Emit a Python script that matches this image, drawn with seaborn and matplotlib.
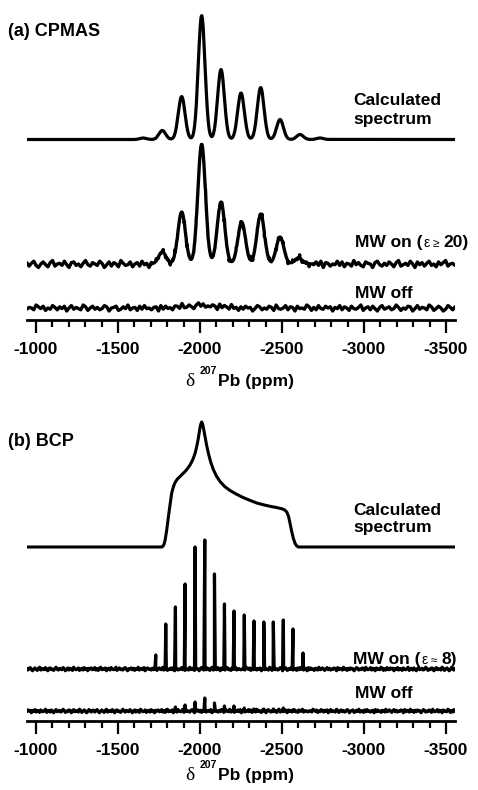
import numpy as np
import pandas as pd
import matplotlib
matplotlib.use("Agg")
import matplotlib.pyplot as plt
import seaborn as sns

# ---------------- data ----------------
XMIN, XMAX = -943, -3555
major_ticks = [-1000, -1500, -2000, -2500, -3000, -3500]
minor_ticks = list(range(-1000, -3501, -100))

# (a) CPMAS – spinning-sideband positions (ppm) and heights
cpmas_calc_pos = [-1654, -1770, -1888, -2010, -2128, -2250, -2370, -2488, -2610, -2732]
cpmas_calc_height = [1.5, 9, 43, 124, 70, 46.5, 52, 20, 5, 1.5]
cpmas_on_pos = [-1770, -1888, -2010, -2128, -2254, -2370, -2488, -2600]
cpmas_on_height = [12, 52, 120, 62, 42, 50, 27, 6]
cpmas_off_pos = [-1888, -2010, -2128]
cpmas_off_height = [1.5, 3, 1.5]

# (b) BCP – calculated static powder pattern (ppm, intensity)
bcp_calc_ppm = [-943, -1768, -1775, -1781, -1787, -1797, -1807, -1817, -1827, -1838,
                -1848, -1862, -1878, -1893, -1909, -1924, -1939, -1955, -1970, -1980,
                -1990, -1998, -2004, -2010, -2016, -2022, -2030, -2040, -2051, -2065,
                -2081, -2100, -2122, -2150, -2183, -2220, -2264, -2305, -2346, -2387,
                -2427, -2465, -2498, -2515, -2529, -2540, -2549, -2559, -2569, -2580,
                -2590, -2600, -3555]
bcp_calc_int = [0, 0, 1, 3, 6.7, 17, 30, 42, 53.7, 60.5,
                64.5, 68, 70.5, 73, 75.5, 78.5, 82, 87, 93.7, 100.5,
                109, 117.5, 122.5, 125, 123, 118, 111, 102, 93.7, 85,
                77.5, 71, 65.5, 60.5, 56.5, 53, 49.4, 46.6, 44, 42.2,
                40.7, 39.5, 38.3, 37.2, 35, 30.5, 23.7, 15.5, 8.7, 3.5,
                1, 0, 0]

# (b) BCP – experimental sharp peaks (ppm) and heights
bcp_on_pos = [-1730, -1791, -1850, -1909, -1970, -2029, -2088, -2149, -2207, -2270,
              -2329, -2389, -2447, -2508, -2567, -2628]
bcp_on_height = [14, 45, 62, 85, 122, 129, 95, 65, 58, 54, 48, 47, 47, 49, 40, 16]
bcp_off_height = [0, 1, 4, 6, 9, 13, 8, 5, 5, 3, 2, 2, 2, 3, 1, 0]

# hand-typed baseline noise pattern
noise_pattern = [2, -3, 1, 4, -2, -5, 0, 3, -1, -4, 2, 5, -3, 0, 1, -2, 4, -1, -5, 2,
                 3, -2, 0, -4, 1, 5, -1, -3, 2, 0, -2, 4, 1, -5, -1, 3, -3, 2, 0, -4,
                 5, 1, -2, -1, 3, -4, 0, 2, -3, 4, -1, 1, -5, 2, 0, 3, -2, -1, 4, -3,
                 1, -4, 2, 5, -2, 0, -1, 3, -5, 1, 2, -3, 4, 0, -2, -1, 5, -4, 1, 3,
                 -2, 0, -3, 2, 4, -1, -5, 1, 0, 3, -2, 2, -4, 1, -1, 5, -3, 0, 2, -2,
                 4, -5, 1, 3, -1, 0, -3, 2, -2, 4, 1, -4, 0, 3, -1, -2, 5, -3, 1, 2,
                 -4, 0, -1, 3, -2, 4, -5, 2, 1, -3, 0, -1, 4, -2, 3, -4, 1, 0, -3, 5,
                 -1, 2, -2, -4, 3, 1, 0, -5, 2, 4, -1, -3, 1, -2, 3, 0, -4, 2, 5, -3,
                 -1, 1, -2, 4, 0, -5, 3, -1, 2, -3, 1, 4, -2, 0, -4, 3, -1, 2, 5, -3,
                 0, 1, -2]

# ---------------- layout constants (pixels) ----------------
W, H = 478, 790
AX_L, AX_R = 26.7, 455.0
A_AXIS, A_TOP = 320.0, 0.0
B_AXIS, B_TOP = 721.0, 400.0
A_OFF = dict(calc=180.5, on=56.0, off=12.0)
B_OFF = dict(calc=174.0, on=52.0, off=10.0)

sns.set_theme(style="white")
plt.rcParams["font.family"] = ["Liberation Sans", "DejaVu Sans"]
plt.rcParams["axes.unicode_minus"] = False

fig = plt.figure(figsize=(W / 100, H / 100), dpi=100)
fig.patch.set_facecolor("white")


def make_ax(axis_px, top_px):
    ax = fig.add_axes([AX_L / W, 1 - axis_px / H, (AX_R - AX_L) / W, (axis_px - top_px) / H])
    ax.set_xlim(XMIN, XMAX)
    ax.set_ylim(0, axis_px - top_px)
    for s in ("left", "right", "top"):
        ax.spines[s].set_visible(False)
    ax.spines["bottom"].set_linewidth(2.0)
    ax.spines["bottom"].set_color("black")
    ax.set_yticks([])
    ax.set_xticks(major_ticks)
    ax.set_xticks(minor_ticks, minor=True)
    ax.set_xticklabels([str(t) for t in major_ticks])
    ax.tick_params(axis="x", which="major", direction="out", length=9.5, width=1.6,
                   color="black", pad=6, labelsize=12.5, labelcolor="black", bottom=True)
    ax.tick_params(axis="x", which="minor", direction="out", length=5, width=1.6,
                   color="black", bottom=True)
    for lab in ax.get_xticklabels():
        lab.set_fontweight("bold")
    ax.set_xlabel("")
    ax.set_ylabel("")
    ax.grid(False)
    ax.set_facecolor("white")
    return ax


def gauss_sum(x, pos, hts, sigma):
    y = np.zeros_like(x, dtype=float)
    for p, h in zip(pos, hts):
        y += h * np.exp(-(x - p) ** 2 / (2 * sigma ** 2))
    return y


def draw(ax, x, y, lw=2.0):
    df = pd.DataFrame({"ppm": x, "I": y})
    sns.lineplot(data=df, x="ppm", y="I", ax=ax, color="black", linewidth=lw,
                 sort=True, estimator=None, legend=False)
    ax.set_xlabel("")
    ax.set_ylabel("")


npat = np.array(noise_pattern, dtype=float)

# ---------------- panel (a) ----------------
axa = make_ax(A_AXIS, A_TOP)
x_fine = np.arange(XMIN, XMAX - 1, -3.0)
draw(axa, x_fine, A_OFF["calc"] + gauss_sum(x_fine, cpmas_calc_pos, cpmas_calc_height, 20.5), lw=2.3)

x_c = np.linspace(XMIN, XMAX, len(npat))
x_pk = np.arange(-1700, -2700, -4.0)
x_on = np.concatenate([x_c, x_pk])
y_on = np.concatenate([gauss_sum(x_c, cpmas_on_pos, cpmas_on_height, 23) + 0.7 * npat,
                       gauss_sum(x_pk, cpmas_on_pos, cpmas_on_height, 23)])
draw(axa, x_on, A_OFF["on"] + y_on, lw=2.4)

npat_r = npat[::-1]
draw(axa, x_c, A_OFF["off"] + gauss_sum(x_c, cpmas_off_pos, cpmas_off_height, 40) + 0.6 * npat_r, lw=2.4)

# ---------------- panel (b) ----------------
axb = make_ax(B_AXIS, B_TOP)
draw(axb, np.array(bcp_calc_ppm, float), B_OFF["calc"] + np.array(bcp_calc_int, float), lw=2.2)

npat2 = np.concatenate([npat, npat_r])
x_c2 = np.linspace(XMIN, XMAX, len(npat2))
pos = np.array(bcp_on_pos, float)
x_on_b = np.concatenate([x_c2, pos - 5, pos, pos + 5])
y_on_b = np.concatenate([0.35 * npat2, np.zeros_like(pos), np.array(bcp_on_height, float),
                         np.zeros_like(pos)])
draw(axb, x_on_b, B_OFF["on"] + y_on_b, lw=2.3)

npat3 = np.roll(npat2, 57)
x_off_b = np.concatenate([x_c2, pos - 5, pos, pos + 5])
y_off_b = np.concatenate([0.35 * npat3, np.zeros_like(pos), np.array(bcp_off_height, float),
                          np.zeros_like(pos)])
draw(axb, x_off_b, B_OFF["off"] + y_off_b, lw=2.3)

# ---------------- text ----------------
FAM = ["Liberation Sans", "DejaVu Sans"]
BOLD = dict(fontsize=12.5, fontweight="bold", family=FAM, color="black")
TITLE = dict(fontsize=13, fontweight="bold", family=FAM, color="black")
SMALL = dict(fontsize=10, fontweight="normal", family=FAM, color="black")
TINY = dict(fontsize=8.5, fontweight="normal", family=FAM, color="black")
LAB = dict(fontsize=12.5, fontweight="bold", family=FAM, color="black")
SUP = dict(fontsize=7.5, fontweight="bold", family=FAM, color="black")
DELTA = dict(fontsize=14, fontweight="normal", family=["Liberation Serif", "DejaVu Serif"], color="black")

renderer = fig.canvas.get_renderer()


def rich(x_px, base_px, pieces):
    x = x_px
    for s, kw, dy, gap in pieces:
        t = fig.text(x / W, 1 - (base_px - dy) / H, s, ha="left", va="baseline", **kw)
        bb = t.get_window_extent(renderer)
        x = bb.x1 + gap


rich(8, 36, [("(a) CPMAS", TITLE, 0, 0)])
rich(353, 105, [("Calculated", BOLD, 0, 0)])
rich(353, 124, [("spectrum", BOLD, 0, 0)])
rich(355, 247, [("MW on (", BOLD, 0, 1), ("ε", SMALL, 0, 3), ("≥", TINY, 0, 4), ("20)", BOLD, 0, 0)])
rich(355, 298, [("MW off", BOLD, 0, 0)])
rich(185, 386, [("δ", DELTA, 0, 5), ("207", SUP, 12, 1), ("Pb (ppm)", LAB, 0, 0)])

rich(8, 446, [("(b) BCP", TITLE, 0, 0)])
rich(353, 515, [("Calculated", BOLD, 0, 0)])
rich(353, 532, [("spectrum", BOLD, 0, 0)])
rich(353, 664, [("MW on (", BOLD, 0, 1), ("ε", SMALL, 0, 3), ("≈", TINY, 0, 4), ("8)", BOLD, 0, 0)])
rich(355, 698, [("MW off", BOLD, 0, 0)])
rich(185, 780, [("δ", DELTA, 0, 5), ("207", SUP, 12, 1), ("Pb (ppm)", LAB, 0, 0)])

fig.savefig("out.png", dpi=100, facecolor="white")
